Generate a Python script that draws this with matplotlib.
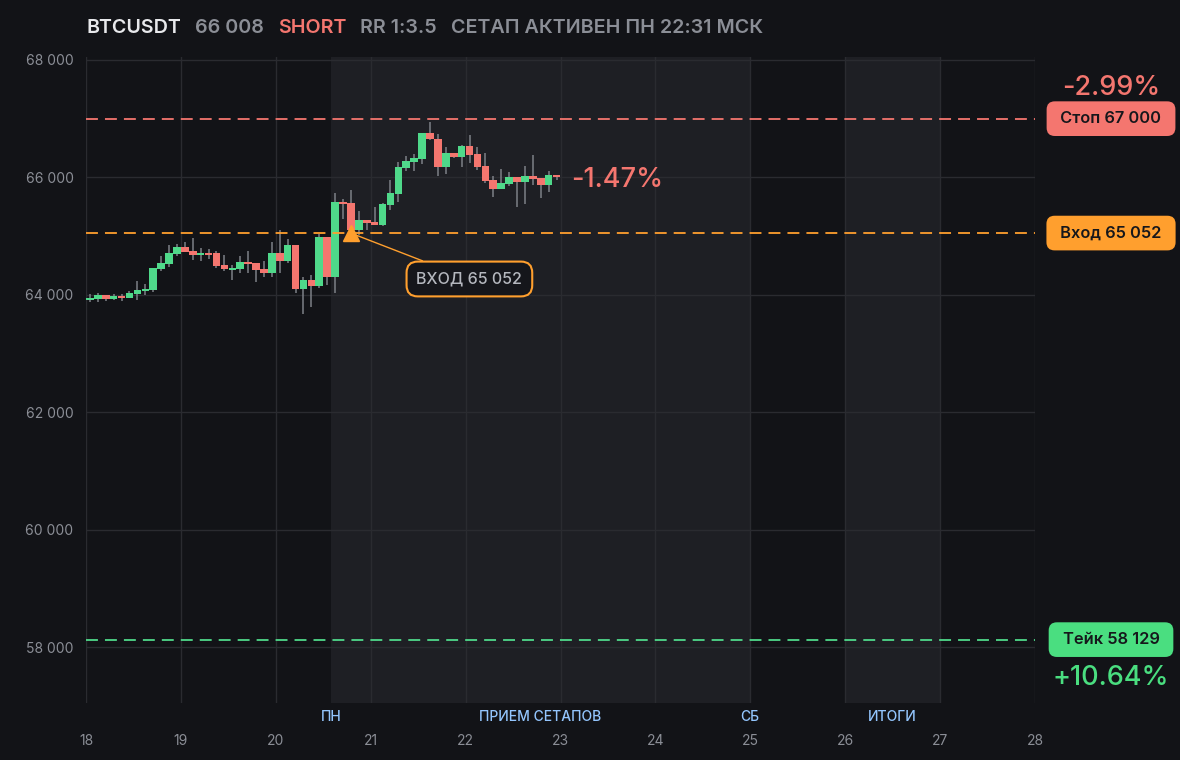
import numpy as np
import matplotlib
matplotlib.use('Agg')
import matplotlib.pyplot as plt
from matplotlib.transforms import blended_transform_factory

plt.rcParams['font.family'] = ['Inter', 'DejaVu Sans']

# 2h candles, BTCUSDT
opens = [63910, 63935, 63990, 63935, 63980, 63945, 64015, 64065, 64080, 64440,
         64525, 64695, 64815, 64745, 64680, 64712, 64710, 64505, 64422, 64440,
         64560, 64540, 64440, 64370, 64710, 64575, 64850, 64100, 64250, 64150,
         64985, 64305, 65580, 65565, 65105, 65275, 65240, 65190, 65530, 65720,
         66160, 66260, 66315, 66755, 66655, 66175, 66415, 66345, 66535, 66400,
         66195, 65955, 65800, 65890, 66005, 65920, 66025, 65990, 65870, 66040]
highs = [64010, 64035, 64000, 64015, 64010, 64060, 64235, 64185, 64460, 64660,
         64850, 64865, 64900, 64970, 64800, 64780, 64745, 64680, 64510, 64660,
         64745, 64545, 64575, 64900, 65105, 64950, 64855, 64305, 64335, 65035,
         64990, 65735, 65630, 65785, 65430, 65280, 65495, 65565, 65955, 66260,
         66365, 66400, 66760, 66945, 66740, 66520, 66420, 66550, 66720, 66520,
         66415, 66025, 66145, 66090, 66010, 66195, 66380, 65995, 66110, 66045]
lows = [63870, 63880, 63900, 63910, 63900, 63945, 63910, 64005, 64050, 64405,
        64480, 64660, 64725, 64595, 64575, 64610, 64455, 64405, 64250, 64370,
        64370, 64220, 64300, 64300, 64370, 64540, 64030, 63675, 63790, 64115,
        64165, 64030, 65290, 65105, 65020, 65110, 65190, 65170, 65445, 65580,
        66110, 66110, 66230, 66640, 66025, 66060, 66330, 66175, 66245, 66125,
        65905, 65665, 65800, 65855, 65495, 65545, 65870, 65650, 65750, 65955]
closes = [63950, 63990, 63935, 63975, 63945, 64025, 64080, 64100, 64455, 64540,
          64710, 64815, 64730, 64680, 64712, 64680, 64490, 64440, 64456, 64560,
          64525, 64420, 64370, 64710, 64575, 64850, 64100, 64250, 64150, 64985,
          64305, 65580, 65545, 65105, 65275, 65225, 65190, 65545, 65735, 66175,
          66280, 66330, 66755, 66655, 66175, 66415, 66345, 66535, 66380, 66175,
          65940, 65800, 65905, 66005, 65920, 66025, 65975, 65870, 66040, 66008]

first_day = 18
bar_hours = 2

stop_price = 67000
entry_price = 65052
take_price = 58129
entry_day = 20.79
entry_text = 'ВХОД 65 052'
entry_box_at = (22.04, 64270)

stop_label = 'Стоп 67 000'
entry_label = 'Вход 65 052'
take_label = 'Тейк 58 129'
stop_pct = '-2.99%'
take_pct = '+10.64%'
open_pct = '-1.47%'

sessions = [(20.583, 25), (26, 27)]
phase_labels = ['ПН', 'ПРИЕМ СЕТАПОВ', 'СБ', 'ИТОГИ']
phase_days = [20.583, 22.79, 25, 26.5]

day_ticks = list(range(18, 29))
price_ticks = [58000, 60000, 62000, 64000, 66000, 68000]

title_parts = [('BTCUSDT', '#e8e9ec'), ('66 008', '#8b8e96'), ('SHORT', '#f4766f'),
               ('RR 1:3.5', '#8b8e96'), ('СЕТАП АКТИВЕН ПН 22:31 МСК', '#8b8e96')]

BG = '#121317'
BAND = '#1e1f24'
GRID = '#2a2b30'
GREEN = '#4fd98a'
RED = '#f4766f'
ORANGE = '#ff9f2e'
WICK = '#7d8087'
TXT = '#8b8e96'

fig = plt.figure(figsize=(11.8, 7.6), dpi=100, facecolor=BG)
ax = fig.add_axes([86 / 1180, 1 - 703 / 760, 949 / 1180, 646 / 760])
ax.set_facecolor(BG)

for a, b in sessions:
    ax.axvspan(a, b, color=BAND, lw=0, zorder=0)

for d in day_ticks:
    ax.axvline(d, color=GRID, lw=1, zorder=0.5)
for p in price_ticks:
    ax.axhline(p, color=GRID, lw=1, zorder=0.5)

n = len(opens)
t = first_day + (np.arange(n) * bar_hours + bar_hours / 2) / 24
o = np.array(opens)
c = np.array(closes)
up = c >= o
cols = np.where(up, GREEN, RED)
body_lo = np.minimum(o, c)
body_h = np.maximum(np.abs(c - o), 25)
w = bar_hours / 24 * 0.96

ax.vlines(t, lows, highs, color=WICK, lw=1.1, zorder=2)
ax.bar(t, body_h, bottom=body_lo, width=w, color=cols, lw=0, zorder=3)

dash = (0, (6.6, 3.9))
ax.axhline(stop_price, color=RED, lw=1.3, ls=dash, zorder=4)
ax.axhline(entry_price, color=ORANGE, lw=1.3, ls=dash, zorder=4)
ax.axhline(take_price, color=GREEN, lw=1.3, ls=dash, zorder=4)

ax.plot(entry_day, entry_price, marker='^', ms=11, color=ORANGE, mec=ORANGE, zorder=6)
ax.annotate(entry_text, xy=(entry_day, entry_price), xytext=entry_box_at,
            ha='center', va='center', fontsize=11.5, color='#b4b7be', fontweight='medium',
            bbox=dict(boxstyle='round,pad=0.62,rounding_size=0.7', fc='#15161b', ec=ORANGE, lw=1.5),
            arrowprops=dict(arrowstyle='-', color=ORANGE, lw=1, shrinkA=0, shrinkB=5),
            zorder=7)

ax.annotate(open_pct, xy=(t[-1], closes[-1]), xytext=(15, -3), textcoords='offset pixels',
            ha='left', va='center', fontsize=19.5, color=RED, fontweight='medium', zorder=7)

side = blended_transform_factory(ax.transAxes, ax.transData)
box_x = 1.0801
for label, price, col in [(stop_label, stop_price, RED), (entry_label, entry_price, ORANGE),
                          (take_label, take_price, '#4ade80')]:
    ax.text(box_x, price, ' ' + label + ' ', transform=side, ha='center', va='center',
            fontsize=11.8, fontweight='semibold', color='#16171b', clip_on=False,
            bbox=dict(boxstyle='round,pad=0.6,rounding_size=0.5', fc=col, ec='none'))

ax.annotate(stop_pct, xy=(box_x, stop_price), xycoords=side, xytext=(0, 31),
            textcoords='offset pixels', ha='center', va='center', fontsize=19.5,
            color=RED, fontweight='medium', annotation_clip=False)
ax.annotate(take_pct, xy=(box_x, take_price), xycoords=side, xytext=(0, -38),
            textcoords='offset pixels', ha='center', va='center', fontsize=19.5,
            color='#4ade80', fontweight='medium', annotation_clip=False)

bottom = blended_transform_factory(ax.transData, ax.transAxes)
for lab, d in zip(phase_labels, phase_days):
    ax.annotate(lab, xy=(d, 0), xycoords=bottom, xytext=(0, -14), textcoords='offset pixels',
                ha='center', va='center', fontsize=10, color='#93c5fd',
                fontweight='medium', annotation_clip=False)

ax.set_xlim(18, 28)
ax.set_ylim(57050, 68050)
ax.set_xticks(day_ticks)
ax.set_xticklabels([str(d) for d in day_ticks])
ax.set_yticks(price_ticks)
ax.set_yticklabels([f'{p:,}'.replace(',', ' ') for p in price_ticks])
ax.tick_params(axis='both', length=0, colors=TXT, labelsize=10)
ax.tick_params(axis='x', pad=22)
ax.tick_params(axis='y', pad=9)
for s in ax.spines.values():
    s.set_visible(False)

# title pieces laid out left to right
fig.canvas.draw()
r = fig.canvas.get_renderer()
x = 86
for txt, col in title_parts:
    tt = fig.text(x / 1180, 1 - 28 / 760, txt, ha='left', va='center', fontsize=14.2,
                  fontweight='semibold', color=col)
    x = tt.get_window_extent(renderer=r).x1 + 14

fig.savefig('out.png', dpi=100, facecolor=BG)
